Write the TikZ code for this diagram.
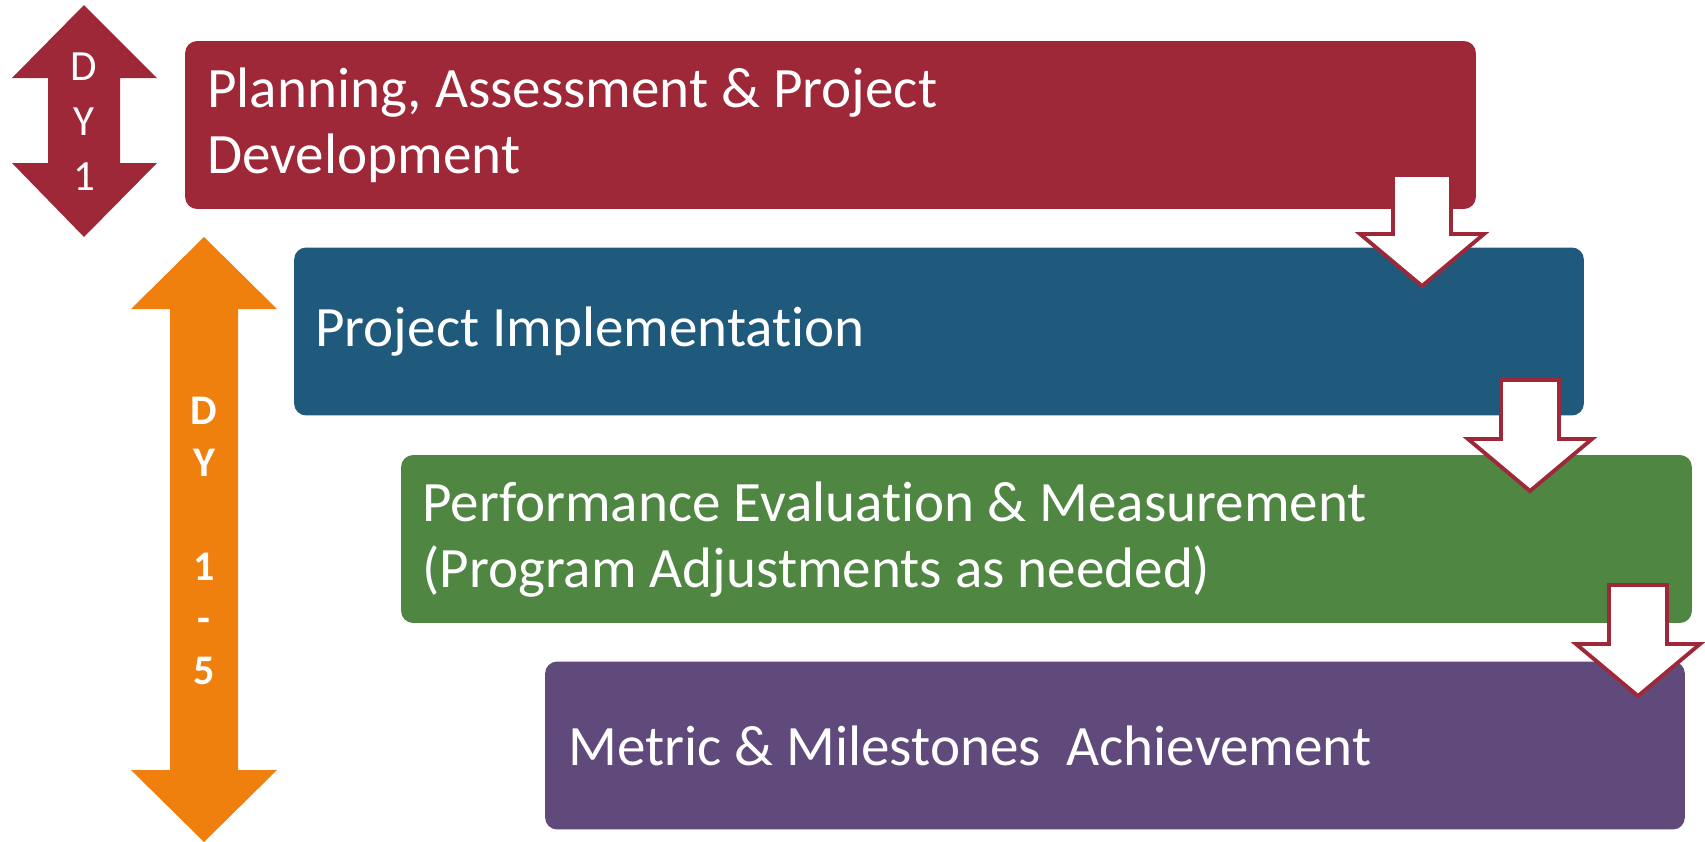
\documentclass[tikz,border=0pt]{standalone}
\usepackage{fontspec}
\setmainfont{Carlito}[RawFeature={-liga;-calt;-dlig;-clig}]
\definecolor{cred}{HTML}{9F2838}
\definecolor{cblue}{HTML}{1F597C}
\definecolor{cgreen}{HTML}{4E8642}
\definecolor{cpurple}{HTML}{604A7B}
\definecolor{corange}{HTML}{F0800E}
\begin{document}
\begin{tikzpicture}[x=0.02cm,y=-0.02cm,
  stage/.style={rectangle, rounded corners=0.24cm, draw=none, minimum height=3.36cm, inner sep=0pt},
  lbl/.style={anchor=west, align=left, text=white, inner sep=0pt, font=\fontsize{32.5}{37.5}\selectfont},
  arrtext/.style={align=center, text=white, inner sep=0pt},
  downarr/.pic={\draw[fill=white, draw=cred, line width=2.2pt, line join=miter]
     (-29,0) -- (29,0) -- (29,59) -- (62,59) -- (0,111) -- (-62,59) -- (-29,59) -- cycle;}]
\useasboundingbox (0,0) rectangle (1705,842);

% stage boxes
\node[stage, fill=cred, minimum width=25.82cm] (b1) at (830.5,125) {};
\node[stage, fill=cblue, minimum width=25.80cm] (b2) at (939,331.5) {};
\node[stage, fill=cgreen, minimum width=25.82cm] (b3) at (1046.5,539) {};
\node[stage, fill=cpurple, minimum width=22.80cm] (b4) at (1115,745.5) {};

\node[lbl] (t1) at (207,125) {Planning, Assessment \& Project\\Development};
\node[lbl] (t2) at (315,332) {Project Implementation};
\node[lbl] (t3) at (422,540) {Performance Evaluation \& Measurement\\(Program Adjustments as needed)};
\node[lbl] (t4) at (568,746) {Metric \& Milestones\ \ Achievement};

% hollow down arrows between stages
\pic at (1422,175) {downarr};
\pic at (1530,380) {downarr};
\pic at (1638,585) {downarr};

% DY 1 double arrow
\fill[cred] (84,5) -- (157,78) -- (120,78) -- (120,163) -- (157,163) -- (84,237)
  -- (12,163) -- (48,163) -- (48,78) -- (12,78) -- cycle;
\node[arrtext, font=\fontsize{24.5}{31.3}\selectfont] (dy1) at (84,122) {D\\Y\\1};

% DY 1-5 double arrow
\fill[corange] (204,237) -- (277,309) -- (238,309) -- (238,770) -- (277,770) -- (204,842)
  -- (131,770) -- (170,770) -- (170,309) -- (131,309) -- cycle;
\node[arrtext, font=\bfseries\fontsize{24}{29.6}\selectfont] (dy15) at (204,541) {D\\Y\\[29.6pt]1\\-\\5};
\end{tikzpicture}
\end{document}
